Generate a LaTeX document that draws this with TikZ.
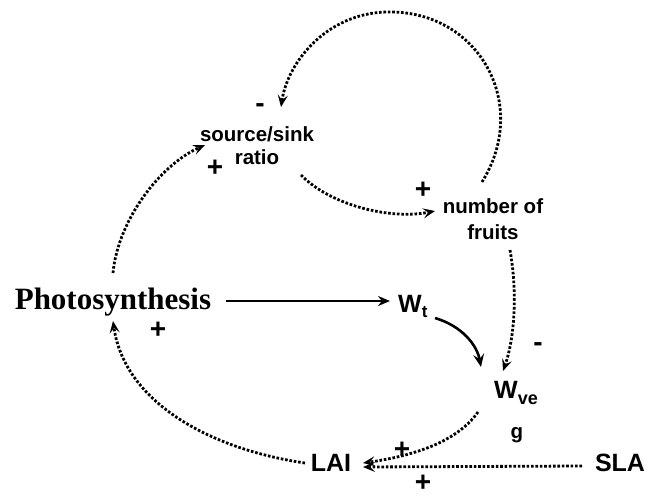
\documentclass[tikz,border=0pt]{standalone}
\usepackage{fontspec}
\setmainfont{Liberation Serif}
\setsansfont{Liberation Sans}
\usetikzlibrary{arrows.meta}
\tikzset{
  lbl/.style={font=\sffamily\bfseries\fontsize{20.5}{24}\selectfont, align=center, inner sep=0pt},
  big/.style={font=\sffamily\bfseries\fontsize{25}{28}\selectfont, inner sep=0pt},
  sign/.style={font=\sffamily\bfseries\fontsize{28}{28}\selectfont, inner sep=0pt},
  dotline/.style={line width=2.8pt, dash pattern=on 2.6pt off 1.8pt, -{Stealth[length=12pt,width=10pt,inset=5pt]}},
  solidline/.style={line width=2pt, -{Stealth[length=12pt,width=10pt,inset=4pt]}},
  thicksolid/.style={line width=2.6pt, -{Stealth[length=13pt,width=11pt,inset=5pt]}}
}
\begin{document}
\begin{tikzpicture}[x=1pt,y=-1pt]
\useasboundingbox (0,0) rectangle (649,504);
% nodes
\node[lbl] (ss) at (257,146) {source/sink\\[-1pt]ratio};
\node[lbl] (nf) at (493,219) {number of\\[2pt]fruits};
\node[font=\rmfamily\bfseries\fontsize{31}{32}\selectfont, inner sep=0pt] (ph) at (113,302) {Photosynthesis};
\node[big, anchor=base west] (wt) at (398,312) {W\raisebox{-5pt}{\fontsize{17}{18}\selectfont t}};
\node[big, anchor=base west] (wv) at (494,398) {W\raisebox{-6pt}{\fontsize{18}{18}\selectfont ve}};
\node[lbl, anchor=base] (wvg) at (517,438) {g};
\node[big] (lai) at (331,463) {LAI};
\node[big] (sla) at (620,463) {SLA};
% coordinates for connector ends
\coordinate (p1) at (226,301);
\coordinate (p2) at (390,301);
\coordinate (w1) at (435,318);
\coordinate (w2) at (481,367);
\coordinate (n1) at (510,250);
\coordinate (n2) at (503,371);
\coordinate (v1) at (478,412);
\coordinate (l1) at (363,463);
\coordinate (s1) at (582,466);
\coordinate (l2) at (363,467);
\coordinate (l3) at (305,463);
\coordinate (h1) at (113,321);
\coordinate (h2) at (113,273);
\coordinate (r1) at (205,145);
\coordinate (r2) at (301,175);
\coordinate (f1) at (435,211);
\coordinate (f2) at (482,182);
\coordinate (top) at (393,12);
\coordinate (r3) at (281,107);
% connectors
\draw[solidline] (p1) -- (p2);
\draw[thicksolid] (w1) .. controls (462,326) and (477,345) .. (w2);
\draw[dotline] (n1) .. controls (518,295) and (514,340) .. (n2);
\draw[dotline] (v1) .. controls (455,445) and (405,457) .. (l1);
\draw[dotline] (s1) -- (l2);
\draw[dotline] (l3) .. controls (215,450) and (125,405) .. (h1);
\draw[dotline] (h2) .. controls (118,220) and (160,165) .. (r1);
\draw[dotline] (r2) .. controls (330,205) and (390,220) .. (f1);
\draw[dotline] (f2) .. controls (530,105) and (480,14) .. (top) .. controls (330,10) and (288,60) .. (r3);
% signs
\node[sign] (m1) at (260,108) {-};
\node[sign] (a1) at (215,168) {+};
\node[sign] (a2) at (423,190) {+};
\node[sign] (a3) at (158,330) {+};
\node[sign] (m2) at (538,347) {-};
\node[sign] (a4) at (402,450) {+};
\node[sign] (a5) at (423,483) {+};
\end{tikzpicture}
\end{document}
